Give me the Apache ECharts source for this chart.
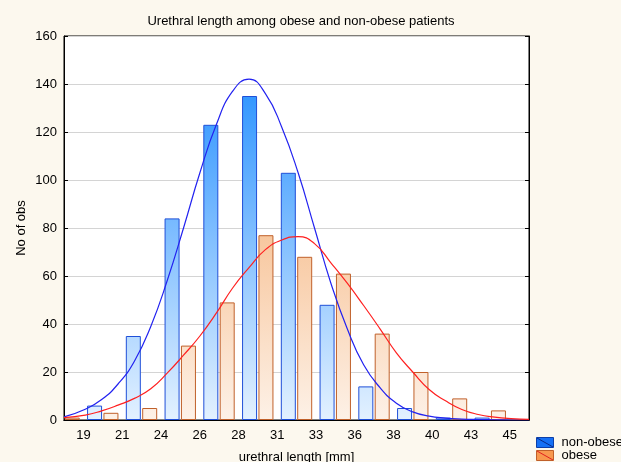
<!DOCTYPE html>
<html>
<head>
<meta charset="utf-8">
<title>Urethral length</title>
<script src="https://cdn.jsdelivr.net/npm/echarts@6/dist/echarts.min.js"></script>
<style>
  body { margin: 0; padding: 0; background: #fcf8ee; }
  #main { width: 621px; height: 462px; }
</style>
</head>
<body>
<div id="main"></div>
<script>
// tick labels on the length axis (mm)
const lengthLabels = ['19', '21', '24', '26', '28', '31', '33', '36', '38', '40', '43', '45'];
// bar heights, one per bin, left to right
const nonObese = [6, 35, 84, 123, 135, 103, 48, 14, 5, 1, 1];
const obese = [1, 3, 5, 31, 49, 77, 68, 61, 36, 20, 9, 4];
// fitted normal curves at these lengths
const curveMm = [17.7, 19, 20, 21, 22, 23, 24, 25, 26, 27, 28, 29, 30, 31, 32, 33, 34, 35, 36, 37, 38, 39, 40, 41, 42, 43, 44, 45, 46.1];
const nonObeseFit = [1.3, 4.5, 8.5, 15, 24.5, 39, 58, 80, 103, 123, 137, 142, 136, 122, 103, 80, 57, 38, 23, 13.5, 7, 3.4, 1.6, 0.8, 0.4, 0.2, 0.1, 0, 0];
const obeseFit = [1, 2, 3.8, 6.2, 9, 13, 19.5, 27, 35, 44.5, 55, 63.5, 71, 75, 76.4, 73.5, 65.5, 57, 47.7, 38, 28, 20, 12.7, 8, 4.4, 2.3, 1.2, 0.6, 0.3];

// bars sit on half-bin slots: obese on the even ones, non-obese on the odd ones
let halfSlots = [];
let obeseBars = [];
let nonObeseBars = [];
for (let i = 0; i < lengthLabels.length * 2; i++) {
  halfSlots.push(String(i));
  obeseBars.push('-');
  nonObeseBars.push('-');
}
obese.forEach(function (v, i) { obeseBars[2 * i] = v; });
nonObese.forEach(function (v, i) { nonObeseBars[2 * i + 1] = v; });

const font = 'Liberation Sans, Arial, sans-serif';
let myChart = echarts.init(document.getElementById('main'));

let blueFill = new echarts.graphic.LinearGradient(0, 36, 0, 420, [
  {offset: 0, color: '#1487ff'},
  {offset: 1, color: '#e3f1ff'}
], true);
let orangeFill = new echarts.graphic.LinearGradient(0, 36, 0, 420, [
  {offset: 0, color: '#f29a50'},
  {offset: 1, color: '#fdf1e7'}
], true);

let option = {
  backgroundColor: '#fcf8ee',
  animation: false,
  textStyle: {fontFamily: font},
  title: {
    text: 'Urethral length among obese and non-obese patients',
    left: 296, top: 10, textAlign: 'center',
    textStyle: {fontSize: 13, fontWeight: 'normal', color: '#000', fontFamily: font}
  },
  grid: {
    left: 64, right: 92, top: 36, bottom: 42,
    outerBoundsMode: 'none',
    show: true, backgroundColor: '#fff', borderColor: '#000', borderWidth: 1
  },
  legend: {
    orient: 'vertical', left: 536, top: 436, height: 30, padding: 0,
    itemWidth: 17, itemHeight: 10, itemGap: 0,
    textStyle: {fontSize: 13, lineHeight: 13, color: '#000', fontFamily: font, padding: [0, 0, 0, 3]},
    data: [
      {name: 'non-obese', icon: 'rect', itemStyle: {color: '#1670f5', borderColor: '#0d3fa8', borderWidth: 1}},
      {name: 'obese', icon: 'rect', itemStyle: {color: '#f8984e', borderColor: '#c0602a', borderWidth: 1}}
    ]
  },
  graphic: [
    {type: 'line', shape: {x1: 537, y1: 438, x2: 553, y2: 447}, style: {stroke: '#0a2a88', lineWidth: 1}, z: 100},
    {type: 'line', shape: {x1: 537, y1: 451, x2: 553, y2: 460}, style: {stroke: '#e02020', lineWidth: 1}, z: 100}
  ],
  xAxis: [
    {
      type: 'category', position: 'bottom', data: lengthLabels,
      name: 'urethral length [mm]', nameLocation: 'middle', nameGap: 31,
      nameTextStyle: {fontSize: 13, color: '#000'},
      axisLine: {lineStyle: {color: '#000'}},
      axisTick: {inside: true, alignWithLabel: true, length: 4, lineStyle: {color: '#000'}},
      axisLabel: {interval: 0, margin: 9, fontSize: 13, color: '#000'}
    },
    {
      type: 'category', position: 'top', data: lengthLabels,
      axisLine: {lineStyle: {color: '#000'}},
      axisTick: {inside: true, alignWithLabel: true, length: 4, lineStyle: {color: '#000'}},
      axisLabel: {show: false}
    },
    {type: 'category', data: halfSlots, show: false},
    {type: 'value', min: 17.7, max: 46.1, show: false}
  ],
  yAxis: [
    {
      type: 'value', min: 0, max: 160, interval: 20, position: 'left',
      name: 'No of obs', nameLocation: 'middle', nameGap: 36, nameMoveOverlap: false,
      nameTextStyle: {fontSize: 13, color: '#000'},
      axisLine: {show: true, lineStyle: {color: '#000'}},
      axisTick: {show: true, inside: true, length: 4, lineStyle: {color: '#000'}},
      axisLabel: {margin: 7, fontSize: 13, color: '#000'},
      splitLine: {lineStyle: {color: '#d4d4d4'}}
    },
    {
      type: 'value', min: 0, max: 160, interval: 20, position: 'right',
      axisLine: {show: true, lineStyle: {color: '#000'}},
      axisTick: {show: true, inside: true, length: 4, lineStyle: {color: '#000'}},
      axisLabel: {show: false},
      splitLine: {show: false}
    }
  ],
  series: [
    {
      name: 'obese', type: 'bar', xAxisIndex: 2, yAxisIndex: 0,
      barWidth: 15, barGap: '-80%',
      itemStyle: {color: orangeFill, borderColor: '#c0602a', borderWidth: 1},
      data: obeseBars
    },
    {
      name: 'non-obese', type: 'bar', xAxisIndex: 2, yAxisIndex: 0,
      barWidth: 15, barGap: '-80%',
      itemStyle: {color: blueFill, borderColor: '#1f4fd8', borderWidth: 1},
      data: nonObeseBars
    },
    {
      name: 'non-obese fit', type: 'line', xAxisIndex: 3, yAxisIndex: 0,
      smooth: true, showSymbol: false, z: 5,
      lineStyle: {color: '#2222f0', width: 1.2},
      data: curveMm.map(function (x, i) { return [x, nonObeseFit[i]]; })
    },
    {
      name: 'obese fit', type: 'line', xAxisIndex: 3, yAxisIndex: 0,
      smooth: true, showSymbol: false, z: 5,
      lineStyle: {color: '#ff2020', width: 1.2},
      data: curveMm.map(function (x, i) { return [x, obeseFit[i]]; })
    }
  ]
};
myChart.setOption(option);
</script>
</body>
</html>
